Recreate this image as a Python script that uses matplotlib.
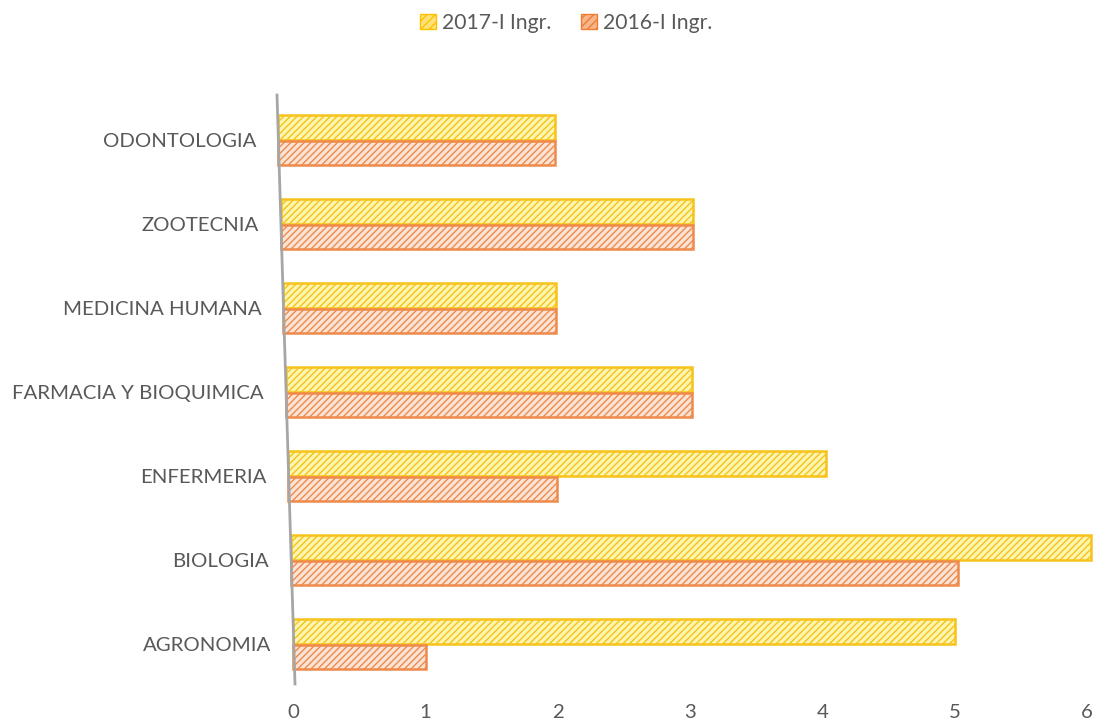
import numpy as np
import matplotlib.pyplot as plt
from matplotlib.lines import Line2D
from matplotlib.patches import Patch
from matplotlib.transforms import Affine2D

plt.rcParams['font.family'] = ['Lato', 'DejaVu Sans']

# carreras de abajo hacia arriba
carreras = ['AGRONOMIA', 'BIOLOGIA', 'ENFERMERIA', 'FARMACIA Y BIOQUIMICA',
            'MEDICINA HUMANA', 'ZOOTECNIA', 'ODONTOLOGIA']
ingr_2017 = [5, 6, 4, 3, 2, 3, 2]
ingr_2016 = [1, 5, 2, 3, 2, 3, 2]
ticks_x = [0, 1, 2, 3, 4, 5, 6]

gris = '#595959'
W, H = 1099, 727
fig = plt.figure(figsize=(W / 100, H / 100), dpi=100)
x_cero, x_seis = 293, 1087
ax = fig.add_axes([x_cero / W, 0.056, (x_seis - x_cero) / W, 0.809])

y = np.arange(len(carreras))
alto = 0.29
b17 = ax.barh(y + 0.15, ingr_2017, height=alto, facecolor='#FCF6B0', edgecolor='#F7C21A',
              hatch='/////', linewidth=1.8, clip_on=False)
b16 = ax.barh(y - 0.15, ingr_2016, height=alto, facecolor='#FBE4D5', edgecolor='#EE8A4C',
              hatch='/////', linewidth=1.8, clip_on=False)

ax.set_xlim(0, 6)
ax.set_ylim(-0.5, len(carreras) - 0.5)

# perspectiva: cada fila se corre a la izquierda y se estira un poco hacia arriba
escala = (x_seis - x_cero) / 6
for i in range(len(carreras)):
    x0 = x_cero - 2.5 * i
    s = 132.5 + 1.0 * i
    t = ax.transData + Affine2D().translate(-x_cero, 0).scale(s / escala, 1).translate(x0, 0)
    b17.patches[i].set_transform(t)
    b16.patches[i].set_transform(t)

ax.set_xticks(ticks_x)
ax.set_yticks(y)
ax.set_yticklabels(carreras)
ax.tick_params(axis='both', length=0, labelsize=14.7, colors=gris)
ax.tick_params(axis='y', pad=16)
ax.tick_params(axis='x', pad=13)
for i, lab in enumerate(ax.get_yticklabels()):
    lab.set_transform(lab.get_transform() + Affine2D().translate(-2.33 * i, 0))
for s in ax.spines.values():
    s.set_visible(False)

# eje vertical inclinado
fig.add_artist(Line2D([277 / W, 295 / W], [1 - 95 / H, 1 - 684 / H],
                      transform=fig.transFigure, color='#A6A6A6', lw=2))

handles = [Patch(facecolor='#FFE27A', edgecolor='#FFC000', hatch='////', label='2017-I Ingr.'),
           Patch(facecolor='#F7B58A', edgecolor='#ED7D31', hatch='////', label='2016-I Ingr.')]
fig.legend(handles=handles, loc='center', bbox_to_anchor=(566 / W, 1 - 23 / H), ncol=2,
           frameon=False, fontsize=15.2, labelcolor=gris, handlelength=0.75,
           handleheight=0.75, handletextpad=0.3, columnspacing=1.4)

fig.savefig('out.png', dpi=100)
